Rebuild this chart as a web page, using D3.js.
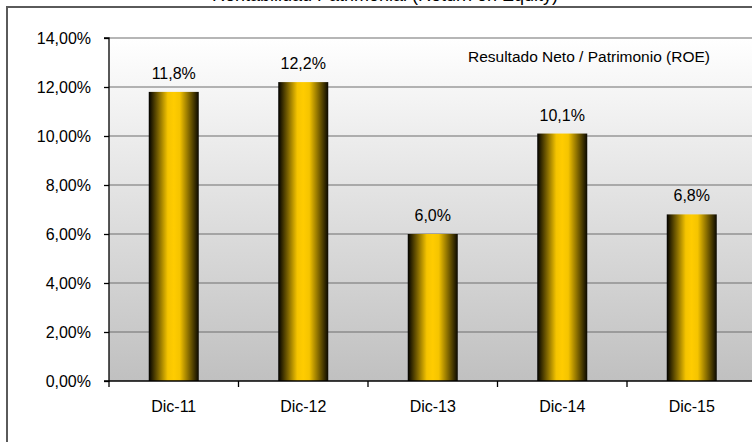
<!DOCTYPE html>
<html><head><meta charset="utf-8">
<script src="https://cdn.jsdelivr.net/npm/d3@7"></script>
<style>body{margin:0;background:#fff;}svg{display:block;font-family:"Liberation Sans",Arial,sans-serif;}</style>
</head><body>
<script>
const categories = ["Dic-11","Dic-12","Dic-13","Dic-14","Dic-15"];
const roeValues = [11.8, 12.2, 6.0, 10.1, 6.8];
const yTicks = [0,2,4,6,8,10,12,14];
const seriesName = "Resultado Neto / Patrimonio (ROE)";
const titleText = "Rentabilidad Patrimonial (Return on Equity)";

(function(){
const W = 752, H = 442;
const svg = d3.select("body").append("svg").attr("width", W).attr("height", H);
const defs = svg.append("defs");
const bg = defs.append("linearGradient").attr("id","bg").attr("x1",0).attr("y1",0).attr("x2",0).attr("y2",1);
bg.append("stop").attr("offset","0%").attr("stop-color","#ffffff");
bg.append("stop").attr("offset","100%").attr("stop-color","#c0c0c0");
const bar = defs.append("linearGradient").attr("id","bar").attr("x1",0).attr("y1",0).attr("x2",1).attr("y2",0);
[[0,"#000000"],[0.38,"#f5c400"],[0.5,"#ffcc00"],[0.62,"#f5c400"],[1,"#0a0800"]].forEach(s=>
  bar.append("stop").attr("offset",s[0]).attr("stop-color",s[1]));

const pl = 109, pr = 756.5, pt = 38, pb = 381;
const x = d3.scaleBand().domain(categories).range([pl, pr]).paddingInner(0).paddingOuter(0);
const y = d3.scaleLinear().domain([0,14]).range([pb, pt]);

svg.append("path").attr("d",`M7,${H+5}V7H${W+5}`).attr("fill","none").attr("stroke","#5a5a5a").attr("stroke-width",2);

svg.append("text").attr("x",385).attr("y",1).attr("text-anchor","middle").attr("font-size",18).attr("fill","#000").text(titleText);

svg.append("rect").attr("x",pl).attr("y",pt).attr("width",pr-pl).attr("height",pb-pt).attr("fill","url(#bg)");

svg.append("g").selectAll("line").data(yTicks.filter(d=>d>0)).join("line")
  .attr("x1",pl).attr("x2",pr).attr("y1",d=>y(d)).attr("y2",d=>y(d))
  .attr("stroke","#6e6e6e").attr("stroke-width",1.2);

const bw = 50;
svg.append("g").selectAll("rect").data(roeValues).join("rect")
  .attr("x",(d,i)=>x(categories[i])+x.bandwidth()/2-bw/2)
  .attr("width",bw)
  .attr("y",d=>y(d)).attr("height",d=>y(0)-y(d))
  .attr("fill","url(#bar)");

svg.append("g").selectAll("text").data(roeValues).join("text")
  .attr("x",(d,i)=>x(categories[i])+x.bandwidth()/2)
  .attr("y",d=>y(d)-13)
  .attr("text-anchor","middle").attr("font-size",16).attr("fill","#000")
  .text(d=>d.toFixed(1).replace(".",",")+"%");

const yAxis = d3.axisLeft(y).tickValues(yTicks).tickSize(5).tickPadding(13)
  .tickFormat(d=>d.toFixed(2).replace(".",",")+"%");
const ya = svg.append("g").attr("transform",`translate(${pl},0)`).call(yAxis);
ya.select(".domain").attr("stroke","#000").attr("stroke-width",1.3).attr("d",`M-5,${pt}H0V${pb}H-5`);
ya.selectAll(".tick line").attr("stroke","#000").attr("stroke-width",1.3);
ya.selectAll(".tick text").attr("font-size",16).attr("fill","#000").attr("font-family","Liberation Sans, Arial, sans-serif");

const xa = svg.append("g").attr("transform",`translate(0,${pb})`);
xa.append("line").attr("x1",pl).attr("x2",pr).attr("stroke","#000").attr("stroke-width",1.3);
const bounds = categories.map(c=>x(c)).concat([pr]);
xa.selectAll("line.t").data(bounds).join("line").attr("class","t")
  .attr("x1",d=>d).attr("x2",d=>d).attr("y1",0).attr("y2",6).attr("stroke","#000").attr("stroke-width",1.3);
xa.selectAll("text").data(categories).join("text")
  .attr("x",d=>x(d)+x.bandwidth()/2).attr("y",31)
  .attr("text-anchor","middle").attr("font-size",16).attr("fill","#000").text(d=>d);

svg.append("text").attr("x",589).attr("y",62).attr("text-anchor","middle").attr("font-size",15.5).attr("fill","#000").text(seriesName);
})();
</script>
</body></html>
